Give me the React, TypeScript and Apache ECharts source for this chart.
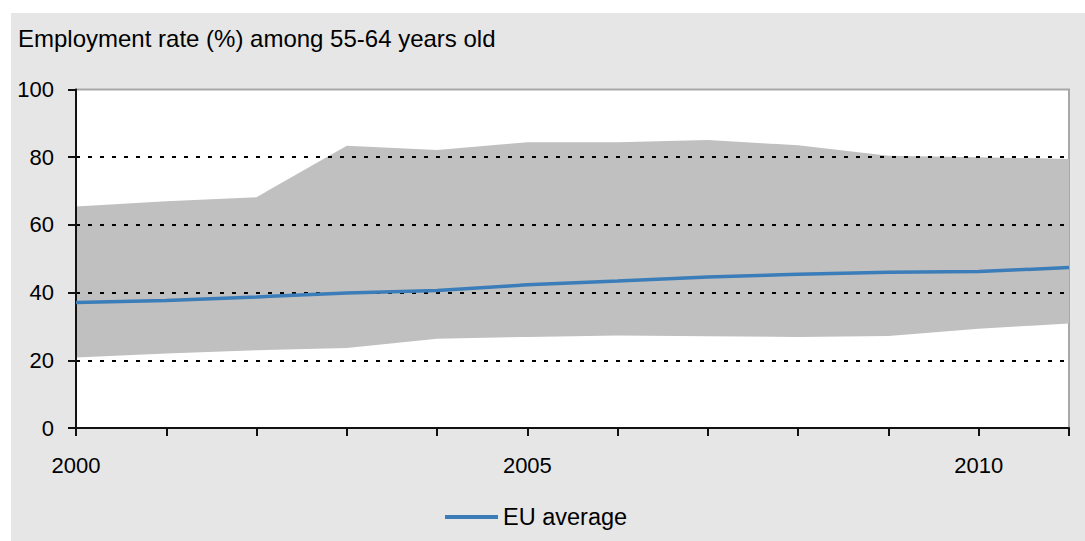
import React, { useEffect, useRef } from "react";
import * as echarts from "echarts";

// Years on the horizontal axis
const years = ["2000", "2001", "2002", "2003", "2004", "2005", "2006", "2007", "2008", "2009", "2010", "2011"];

// EU average employment rate (%) of people aged 55-64
const euAverage = [37.1, 37.7, 38.7, 39.9, 40.6, 42.3, 43.4, 44.6, 45.4, 46.0, 46.2, 47.4];

// Lowest and highest national rates (%) – the grey range band
const minRate = [20.8, 22.0, 23.0, 23.6, 26.4, 26.9, 27.3, 27.1, 26.9, 27.2, 29.3, 30.9];
const maxRate = [65.4, 67.0, 68.2, 83.4, 82.1, 84.4, 84.4, 85.1, 83.5, 80.4, 80.0, 79.5];

const yTicks = [0, 20, 40, 60, 80, 100];

const FONT = "'Liberation Sans', Arial, sans-serif";

export default function App() {
  const ref = useRef<HTMLDivElement>(null);

  useEffect(() => {
    if (!ref.current) return;
    const chart = echarts.init(ref.current, undefined, { renderer: "svg" });
    const bandHeight = maxRate.map((v, i) => +(v - minRate[i]).toFixed(2));

    chart.setOption({
      animation: false,
      backgroundColor: "#e6e6e6",
      title: {
        text: "Employment rate (%) among 55-64 years old",
        left: 2,
        top: 8,
        textStyle: { fontFamily: FONT, fontSize: 24, fontWeight: "normal", color: "#000" },
      },
      legend: {
        data: ["EU average"],
        left: 429,
        top: 487,
        icon: "rect",
        itemWidth: 53,
        itemHeight: 4,
        textStyle: { fontFamily: FONT, fontSize: 23.5, color: "#000" },
      },
      grid: {
        left: 65,
        top: 76.5,
        right: 16,
        bottom: 113,
        show: true,
        backgroundColor: "#ffffff",
        borderColor: "#a8a8a8",
        borderWidth: 2,
      },
      xAxis: {
        type: "category",
        data: years,
        boundaryGap: false,
        axisLine: { lineStyle: { color: "#111", width: 2 } },
        axisTick: { interval: 0, length: 8, lineStyle: { color: "#111", width: 2 } },
        axisLabel: {
          interval: (idx: number) => idx % 5 === 0,
          margin: 26,
          fontFamily: FONT,
          fontSize: 22,
          color: "#000",
        },
        splitLine: { show: false },
      },
      yAxis: {
        type: "value",
        min: yTicks[0],
        max: yTicks[yTicks.length - 1],
        interval: 20,
        z: 3,
        axisLine: { show: true, lineStyle: { color: "#111", width: 2 } },
        axisTick: { show: true, length: 8, lineStyle: { color: "#111", width: 2 } },
        axisLabel: { margin: 22, fontFamily: FONT, fontSize: 22, color: "#000" },
        splitLine: {
          show: true,
          showMinLine: false,
          showMaxLine: false,
          lineStyle: { color: "#000", width: 2, type: [4, 8] },
        },
      },
      series: [
        {
          name: "min",
          type: "line",
          data: minRate,
          stack: "range",
          symbol: "none",
          lineStyle: { opacity: 0 },
          areaStyle: { opacity: 0 },
          silent: true,
          z: 1,
        },
        {
          name: "range",
          type: "line",
          data: bandHeight,
          stack: "range",
          symbol: "none",
          lineStyle: { opacity: 0 },
          areaStyle: { color: "#c0c0c0", opacity: 1 },
          silent: true,
          z: 1,
        },
        {
          name: "EU average",
          type: "line",
          data: euAverage,
          symbol: "none",
          color: "#3a7db9",
          lineStyle: { color: "#3a7db9", width: 3.5 },
          z: 5,
        },
      ],
    });

    return () => chart.dispose();
  }, []);

  return (
    <div
      ref={ref}
      style={{ position: "fixed", left: 11, top: 13, width: 1074, height: 528 }}
    />
  );
}
